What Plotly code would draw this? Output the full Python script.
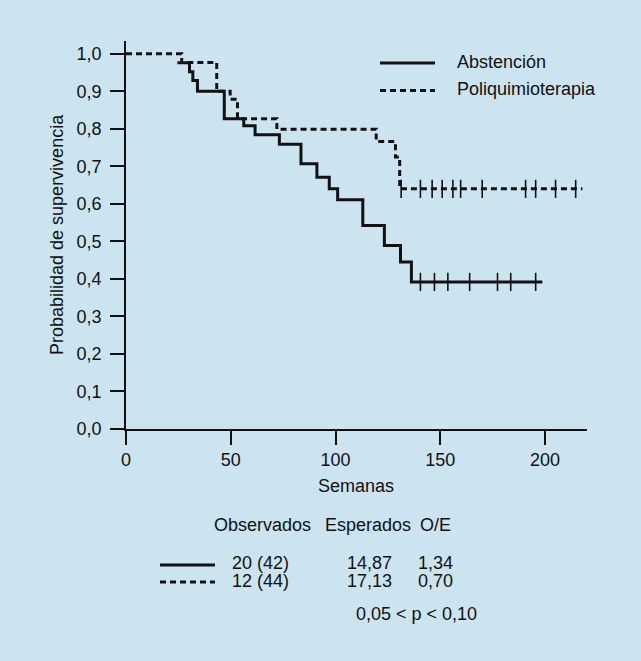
import plotly.graph_objects as go

# ---------------- data ----------------
# Abstención (solid): drop times (weeks) and survival after each drop
abst_weeks = [24.5, 30.3, 31.9, 34.1, 46.9, 56.2, 61.6, 73.2, 83.5, 91.1,
              97.0, 101.0, 113.0, 123.3, 131.0, 136.2]
abst_surv = [0.976, 0.952, 0.929, 0.900, 0.827, 0.808, 0.784, 0.759, 0.707,
             0.671, 0.640, 0.611, 0.542, 0.489, 0.445, 0.392]
abst_last_week = 198.7
abst_censored = [140.5, 147.2, 153.6, 164.0, 177.3, 183.6, 195.5]

# Poliquimioterapia (dashed)
poli_weeks = [0, 26.6, 43.3, 49.7, 53.2, 72.0, 119.4, 128.6, 130.6]
poli_surv = [1.0, 0.977, 0.900, 0.879, 0.827, 0.799, 0.766, 0.725, 0.640]
poli_last_week = 217.8
poli_censored = [131.3, 140.5, 146.1, 150.9, 156.0, 159.7, 170.0, 190.7,
                 195.5, 205.0, 214.6]

series_names = ["Abstención", "Poliquimioterapia"]
x_ticks = [0, 50, 100, 150, 200]
y_ticks = [0.0, 0.1, 0.2, 0.3, 0.4, 0.5, 0.6, 0.7, 0.8, 0.9, 1.0]

table_header = ["Observados", "Esperados", "O/E"]
table_obs = ["20 (42)", "12 (44)"]
table_exp = ["14,87", "17,13"]
table_oe = ["1,34", "0,70"]
p_text = "0,05 < p < 0,10"

# ---------------- layout helpers ----------------
W_FIG, H_FIG = 641, 661
L, R, T, B = 126, 587, 41, 429
PW, PH = R - L, B - T


def xp(px):
    return (px - L) / PW


def yp(py):
    return (B - py) / PH


BG = "#cce4f0"
INK = "#111111"
FONT = "Liberation Sans, Arial, Helvetica, sans-serif"
FS = 18
DASH = "6px,4px"

fig = go.Figure()

# dashed curve first, solid on top
fig.add_trace(go.Scatter(
    x=poli_weeks + [poli_last_week], y=poli_surv + [poli_surv[-1]],
    mode="lines", line=dict(color=INK, width=3, dash=DASH, shape="hv"),
    name=series_names[1], showlegend=False, hoverinfo="skip"))
fig.add_trace(go.Scatter(
    x=poli_censored, y=[poli_surv[-1]] * len(poli_censored),
    mode="markers", marker=dict(symbol="line-ns-open", size=13, color=INK,
                                line=dict(color=INK, width=1.6)),
    showlegend=False, hoverinfo="skip"))

fig.add_trace(go.Scatter(
    x=abst_weeks + [abst_last_week], y=abst_surv + [abst_surv[-1]],
    mode="lines", line=dict(color=INK, width=3, shape="hv"),
    name=series_names[0], showlegend=False, hoverinfo="skip"))
fig.add_trace(go.Scatter(
    x=abst_censored, y=[abst_surv[-1]] * len(abst_censored),
    mode="markers", marker=dict(symbol="line-ns-open", size=13, color=INK,
                                line=dict(color=INK, width=1.6)),
    showlegend=False, hoverinfo="skip"))

axis_common = dict(showline=True, linecolor=INK, linewidth=1.5,
                   ticks="outside", ticklen=14, tickwidth=1.5, tickcolor=INK,
                   showgrid=False, zeroline=False,
                   tickfont=dict(family=FONT, size=FS, color=INK))

fig.update_xaxes(range=[0, 220], tickvals=x_ticks, **axis_common)
fig.update_yaxes(range=[0, 1.034], tickvals=y_ticks, tickformat=".1f",
                 ticklabelstandoff=5, **axis_common)

annotations = []
shapes = []


def text(px, py, s, anchor="left", angle=0):
    annotations.append(dict(x=xp(px), y=yp(py), xref="paper", yref="paper",
                            text=s, showarrow=False, xanchor=anchor,
                            yanchor="middle", textangle=angle,
                            font=dict(family=FONT, size=FS, color=INK)))


def sample(px0, px1, py, dash):
    shapes.append(dict(type="line", xref="paper", yref="paper",
                       x0=xp(px0), x1=xp(px1), y0=yp(py), y1=yp(py),
                       line=dict(color=INK, width=3, dash=dash)))


# axis titles
text(57, 235, "Probabilidad de supervivencia", anchor="center", angle=-90)
text(356, 486, "Semanas", anchor="center")

# legend
sample(380, 435, 63, "solid")
sample(380, 435, 90.5, DASH)
text(455, 62, series_names[0])
text(455, 89, series_names[1])

# table
text(212, 525, table_header[0])
text(323, 525, table_header[1])
text(418, 525, table_header[2])
row_y = [563, 581]
sample(160, 215, row_y[0] + 2, "solid")
sample(160, 215, row_y[1] + 1, DASH)
for i in range(2):
    text(230, row_y[i], table_obs[i])
    text(345, row_y[i], table_exp[i])
    text(416, row_y[i], table_oe[i])
text(354, 614, p_text)

fig.update_layout(
    width=W_FIG, height=H_FIG,
    margin=dict(l=L, r=W_FIG - R, t=T, b=H_FIG - B, pad=0),
    paper_bgcolor=BG, plot_bgcolor=BG,
    separators=",.",
    font=dict(family=FONT, size=FS, color=INK),
    annotations=annotations, shapes=shapes,
    showlegend=False,
)

fig.write_html("out.html",
               config={"displayModeBar": False},
               post_script="document.body.style.margin='0';"
                           "document.body.style.background='" + BG + "';")
